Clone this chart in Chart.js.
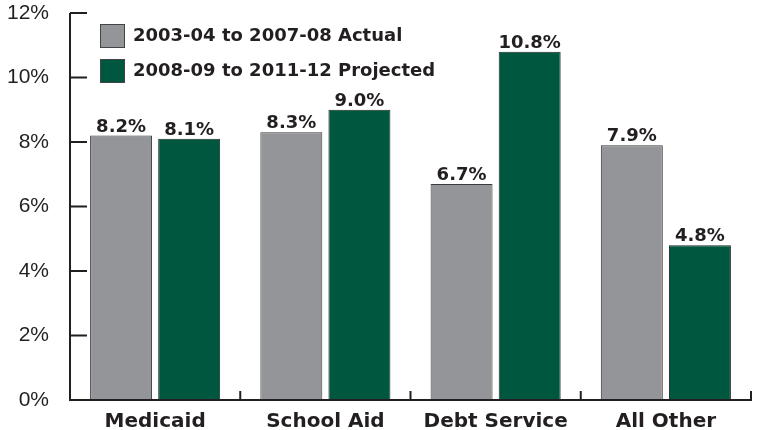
<!DOCTYPE html>
<html>
<head>
<meta charset="utf-8">
<script src="https://cdn.jsdelivr.net/npm/chart.js@4/dist/chart.umd.min.js"></script>
<style>
	html, body { margin: 0; padding: 0; background: #fff; }
	#wrap { width: 757px; height: 430px; }
</style>
</head>
<body>
<div id="wrap"><canvas id="growth-chart" width="757" height="430"></canvas></div>
<script>
var categories = ['Medicaid', 'School Aid', 'Debt Service', 'All Other'];
var actualLabel = '2003-04 to 2007-08 Actual';
var projectedLabel = '2008-09 to 2011-12 Projected';
var actualValues = [8.2, 8.3, 6.7, 7.9];
var projectedValues = [8.1, 9.0, 10.8, 4.8];
var yTicks = [0, 2, 4, 6, 8, 10, 12];

var gray = '#939598',
	green = '#00573f',
	ink = '#231f20',
	boldFamily = '"DejaVu Sans", "Liberation Sans", sans-serif';

// axis ticks are drawn inward, and value labels sit on top of the bars
var decorPlugin = {
	id: 'decor',
	afterDatasetsDraw: function(chart) {
		var ctx = chart.ctx,
			area = chart.chartArea,
			xScale = chart.scales.x,
			yScale = chart.scales.y;

		ctx.save();
		ctx.strokeStyle = ink;
		ctx.lineWidth = 2;

		//Y axis line and ticks
		ctx.beginPath();
		ctx.moveTo(area.left, yScale.getPixelForValue(12));
		ctx.lineTo(area.left, area.bottom);
		ctx.lineTo(area.right + 1, area.bottom);
		yTicks.forEach(function(v) {
			var y = yScale.getPixelForValue(v);
			ctx.moveTo(area.left, y);
			ctx.lineTo(area.left + 17, y);
		});

		//X axis ticks between categories
		for (let i = 0; i < categories.length; i++) {
			let x = xScale.getPixelForValue(i) + (xScale.getPixelForValue(1) - xScale.getPixelForValue(0)) / 2;
			ctx.moveTo(x, area.bottom);
			ctx.lineTo(x, area.bottom - 9);
		}
		ctx.stroke();

		//Value labels
		ctx.fillStyle = ink;
		ctx.font = 'bold 18px ' + boldFamily;
		ctx.textAlign = 'center';
		ctx.textBaseline = 'alphabetic';
		chart.data.datasets.forEach(function(ds, di) {
			chart.getDatasetMeta(di).data.forEach(function(bar, i) {
				ctx.fillText(ds.data[i].toFixed(1) + '%', bar.x, bar.y - 4);
			});
		});

		//Legend
		ctx.textAlign = 'left';
		ctx.textBaseline = 'middle';
		chart.data.datasets.forEach(function(ds, di) {
			var top = 24 + di * 35;
			ctx.fillStyle = ds.backgroundColor;
			ctx.fillRect(100, top, 25, 24);
			ctx.lineWidth = 1;
			ctx.strokeStyle = '#444';
			ctx.strokeRect(100.5, top + 0.5, 24, 23);
			ctx.fillStyle = ink;
			ctx.fillText(ds.label, 133, top + 12);
		});

		ctx.restore();
	}
};

new Chart(document.getElementById('growth-chart'), {
	type: 'bar',
	data: {
		labels: categories,
		datasets: [
			{
				label: actualLabel,
				data: actualValues,
				backgroundColor: gray,
				borderColor: '#3a3a3a',
				borderWidth: 1,
				categoryPercentage: 0.8,
				barPercentage: 0.91
			},
			{
				label: projectedLabel,
				data: projectedValues,
				backgroundColor: green,
				borderColor: '#1e2a24',
				borderWidth: 1,
				categoryPercentage: 0.8,
				barPercentage: 0.91
			}
		]
	},
	options: {
		responsive: false,
		animation: false,
		events: [],
		layout: {
			padding: {top: 13, right: 6, left: 0, bottom: 0}
		},
		plugins: {
			legend: {display: false},
			tooltip: {enabled: false}
		},
		scales: {
			x: {
				grid: {display: false},
				border: {display: false},
				ticks: {
					color: ink,
					font: {family: boldFamily, size: 20, weight: 'bold'},
					padding: 2
				},
				afterFit: function(scale) {
					scale.height = 30;
					scale.paddingLeft = 0;
					scale.paddingRight = 0;
				}
			},
			y: {
				min: 0,
				max: 12,
				grid: {display: false},
				border: {display: false},
				afterBuildTicks: function(scale) {
					scale.ticks = yTicks.map(function(v) {
						return {value: v};
					});
				},
				ticks: {
					color: ink,
					font: {family: '"Liberation Sans", Arial, sans-serif', size: 21},
					padding: 13,
					callback: function(v) {
						return v + '%';
					}
				},
				afterFit: function(scale) {
					scale.width = 70;
					scale.paddingTop = 0;
					scale.paddingBottom = 0;
				}
			}
		}
	},
	plugins: [decorPlugin]
});
</script>
</body>
</html>
